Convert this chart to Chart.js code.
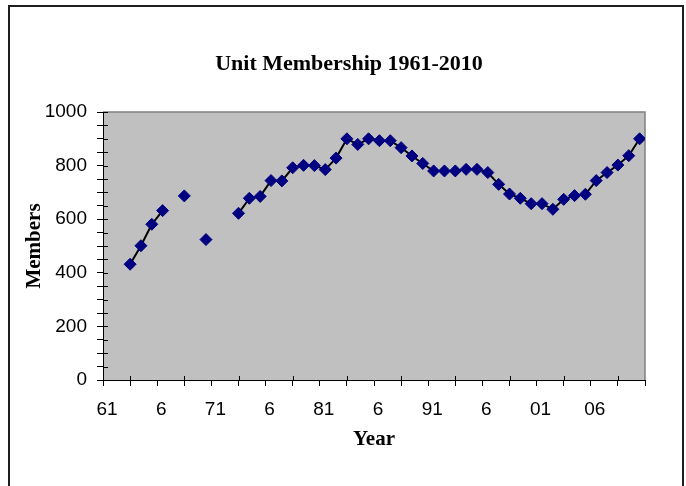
<!DOCTYPE html>
<html>
<head>
<meta charset="utf-8">
<script src="https://cdn.jsdelivr.net/npm/chart.js@4/dist/chart.umd.min.js"></script>
<style>
  html, body { margin: 0; padding: 0; background: #fff; overflow: hidden; }
</style>
</head>
<body>
<canvas id="myChart" width="686" height="486"></canvas>
<script>
const chartTitle = "Unit Membership 1961-2010";
const xTitle = "Year";
const yTitle = "Members";

// one entry per year, null where there is no figure for that year
const years = [1963, 1964, 1965, 1966, 1967, 1968, 1969, 1970, 1971, 1972,
  1973, 1974, 1975, 1976, 1977, 1978, 1979, 1980, 1981, 1982,
  1983, 1984, 1985, 1986, 1987, 1988, 1989, 1990, 1991, 1992,
  1993, 1994, 1995, 1996, 1997, 1998, 1999, 2000, 2001, 2002,
  2003, 2004, 2005, 2006, 2007, 2008, 2009, 2010];
const members = [432, 501, 581, 632, null, 687, null, 524, null, null,
  622, 678, 685, 744, 743, 792, 801, 800, 785, 828,
  900, 879, 900, 893, 893, 867, 836, 808, 780, 780,
  780, 786, 786, 774, 730, 694, 678, 658, 658, 637,
  674, 688, 693, 744, 774, 802, 837, 900];

const yearTickLabels = ["61", "6", "71", "6", "81", "6", "91", "6", "01", "06"];
const xMin = 1960.5, xMax = 2010.5, xStep = 2.5;
const yMin = 0, yMax = 1000, yStep = 50, yLabelStep = 200;

const serif = '"Liberation Serif", "Times New Roman", serif';
const sans = '"Liberation Sans", Arial, sans-serif';

const decor = {
  id: "decor",
  beforeDraw(chart) {
    const {ctx, chartArea: a} = chart;
    ctx.save();
    ctx.fillStyle = "#fff";
    ctx.fillRect(0, 0, chart.width, chart.height);
    ctx.fillStyle = "#c0c0c0";
    ctx.fillRect(a.left, a.top, a.right - a.left, a.bottom - a.top);
    ctx.strokeStyle = "#808080";
    ctx.lineWidth = 1.5;
    ctx.beginPath();
    ctx.moveTo(a.left, a.top);
    ctx.lineTo(a.right, a.top);
    ctx.lineTo(a.right, a.bottom);
    ctx.stroke();
    ctx.restore();
  },
  beforeDatasetsDraw(chart) {
    const {ctx, chartArea: a, scales} = chart;
    ctx.save();
    ctx.strokeStyle = "#000";
    ctx.lineWidth = 1;
    ctx.beginPath();
    scales.x.ticks.forEach((t, i) => {
      if (i % 2 === 1) {
        const x = Math.round(scales.x.getPixelForTick(i)) + 0.5;
        ctx.moveTo(x, a.bottom);
        ctx.lineTo(x, a.bottom - 4);
      }
    });
    scales.y.ticks.forEach((t, i) => {
      const y = Math.round(scales.y.getPixelForTick(i)) + 0.5;
      ctx.moveTo(a.left, y);
      ctx.lineTo(a.left + 5, y);
    });
    ctx.stroke();
    ctx.restore();
  },
  afterDraw(chart) {
    const {ctx} = chart;
    ctx.save();
    ctx.strokeStyle = "#1e1e1e";
    ctx.lineWidth = 2;
    ctx.strokeRect(9, 6, 674, 520);
    ctx.fillStyle = "#000";
    ctx.font = "bold 22px " + serif;
    ctx.textAlign = "center";
    ctx.textBaseline = "middle";
    ctx.fillText(chartTitle, 349, 64);
    ctx.restore();
  }
};

new Chart("myChart", {
  type: "line",
  data: {
    datasets: [{
      data: years.map((yr, i) => ({x: yr, y: members[i]})),
      borderColor: "#000",
      borderWidth: 2,
      pointStyle: "rectRot",
      pointRadius: 6,
      pointBackgroundColor: "#000080",
      pointBorderColor: "#000080",
      pointBorderWidth: 1,
      spanGaps: false,
      tension: 0
    }]
  },
  plugins: [decor],
  options: {
    responsive: false,
    animation: false,
    layout: {padding: {left: 0, top: 112, right: 41, bottom: 0}},
    plugins: {
      legend: {display: false},
      tooltip: {enabled: false},
      title: {display: false}
    },
    scales: {
      x: {
        type: "linear",
        min: xMin,
        max: xMax,
        afterFit(s) { s.height = 106; },
        border: {display: true, color: "#000", width: 1},
        grid: {drawOnChartArea: false, color: "#000", tickLength: 6},
        ticks: {
          stepSize: xStep,
          autoSkip: false,
          maxRotation: 0,
          labelOffset: 4,
          padding: 12,
          color: "#000",
          font: {family: sans, size: 19},
          callback: (v, i) => (i % 2 === 0 && yearTickLabels[i / 2] !== undefined) ? yearTickLabels[i / 2] : ""
        },
        title: {
          display: true,
          text: xTitle,
          color: "#000",
          font: {family: serif, size: 21, weight: "bold"},
          padding: {top: 0, bottom: 34}
        }
      },
      y: {
        min: yMin,
        max: yMax,
        afterFit(s) { s.width = 103; },
        border: {display: true, color: "#000", width: 1},
        grid: {drawOnChartArea: false, color: "#000", tickLength: 6},
        ticks: {
          stepSize: yStep,
          autoSkip: false,
          padding: 10,
          color: "#000",
          font: {family: sans, size: 19},
          callback: v => (v % yLabelStep === 0 ? v : "")
        },
        title: {
          display: true,
          text: yTitle,
          color: "#000",
          font: {family: serif, size: 21, weight: "bold"},
          padding: {top: 22, bottom: 0}
        }
      }
    }
  }
});
</script>
</body>
</html>
